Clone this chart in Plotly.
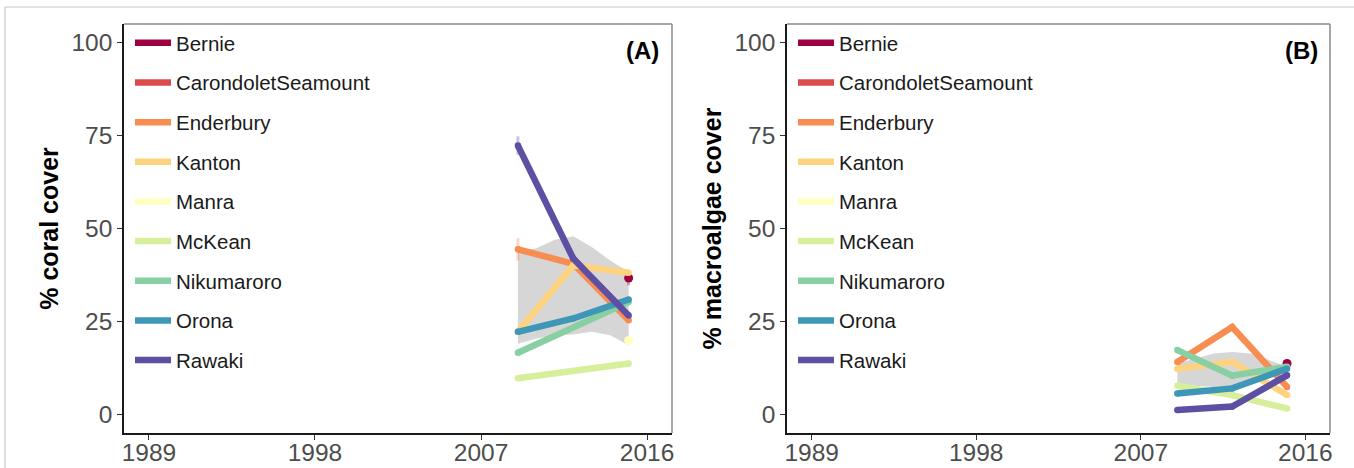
import plotly.graph_objects as go

sites = ["Bernie", "CarondoletSeamount", "Enderbury", "Kanton", "Manra",
         "McKean", "Nikumaroro", "Orona", "Rawaki"]
site_colors = ["#9E0142", "#DD4A4C", "#F88D52", "#FED380", "#FFFFBF",
               "#D7EF9B", "#88CFA4", "#3F97B7", "#5E4FA2"]
years = [2009, 2012, 2015]

# panel A: % coral cover
coral_bernie = [None, None, 36.7]
coral_carondolet = [None, None, None]
coral_enderbury = [44.4, 40.5, 25.3]
coral_kanton = [22.2, 40.1, 38.1]
coral_manra = [None, None, 19.9]
coral_mckean = [9.7, None, 13.7]
coral_nikumaroro = [16.6, None, 30.2]
coral_orona = [22.2, 25.8, 30.9]
coral_rawaki = [72.3, 41.9, 26.6]
coral_err_rawaki = [2.5, 0, 0]
coral_err_enderbury = [3.0, 0, 0]
coral_err_bernie = [0, 0, 2.0]

# panel B: % macroalgae cover
macro_bernie = [None, None, 13.7]
macro_carondolet = [None, None, None]
macro_enderbury = [14.1, 23.5, 7.4]
macro_kanton = [12.3, 14.1, 5.2]
macro_manra = [None, None, None]
macro_mckean = [7.7, 5.2, 1.6]
macro_nikumaroro = [17.3, 10.4, 12.8]
macro_orona = [5.6, 7.0, 12.3]
macro_rawaki = [1.2, 2.1, 10.5]

# smoothed confidence band (grey ribbon)
band_years = [2009, 2010, 2011, 2012, 2013, 2014, 2015]
coral_band_upper = [43.6, 44.7, 47.0, 47.9, 45.0, 41.4, 38.3]
coral_band_lower = [19.0, 20.4, 21.3, 21.5, 22.2, 21.3, 18.6]
macro_band_upper = [13.7, 15.0, 16.4, 16.8, 16.4, 14.6, 12.8]
macro_band_lower = [8.3, 7.7, 7.4, 7.7, 8.8, 9.8, 11.0]

tick_years = [1989, 1998, 2007, 2016]

coral_series = [coral_bernie, coral_carondolet, coral_enderbury, coral_kanton,
                coral_manra, coral_mckean, coral_nikumaroro, coral_orona, coral_rawaki]
macro_series = [macro_bernie, macro_carondolet, macro_enderbury, macro_kanton,
                macro_manra, macro_mckean, macro_nikumaroro, macro_orona, macro_rawaki]
coral_errs = {"Rawaki": coral_err_rawaki, "Enderbury": coral_err_enderbury,
              "Bernie": coral_err_bernie}

W, H = 1354, 468
FONT = "Liberation Sans, Arial, Helvetica, sans-serif"


def px_x(p):
    return p / W


def px_y(p):
    return 1 - p / H


fig = go.Figure()


def rgba(hexc, a):
    h = hexc.lstrip("#")
    return "rgba(%d,%d,%d,%s)" % (int(h[0:2], 16), int(h[2:4], 16), int(h[4:6], 16), a)


def add_panel(xa, ya, series, upper, lower, legend_name, errs):
    fig.add_trace(go.Scatter(x=band_years + band_years[::-1], y=upper + lower[::-1],
                             fill="toself", fillcolor="#D6D6D6", line=dict(width=0),
                             mode="lines", hoverinfo="skip", showlegend=False,
                             xaxis=xa, yaxis=ya))
    for name, col, vals in zip(sites, site_colors, series):
        xs = [yr for yr, v in zip(years, vals) if v is not None]
        ys = [v for v in vals if v is not None]
        grp = legend_name + name
        fig.add_trace(go.Scatter(x=xs if xs else [None], y=ys if ys else [None],
                                 mode="lines", name=name,
                                 line=dict(color=col, width=6.5),
                                 legend=legend_name, legendgroup=grp,
                                 xaxis=xa, yaxis=ya))
        if xs:
            e = errs.get(name)
            ev = None
            if e is not None:
                ev = [err for err, v in zip(e, vals) if v is not None]
            fig.add_trace(go.Scatter(x=xs, y=ys, mode="markers",
                                     marker=dict(color=col, size=9 if len(xs) == 1 else 6.5),
                                     error_y=dict(type="data", array=ev, visible=ev is not None,
                                                  color=rgba(col, 0.35), thickness=3, width=0),
                                     showlegend=False, legend=legend_name, legendgroup=grp,
                                     xaxis=xa, yaxis=ya))


add_panel("x", "y", coral_series, coral_band_upper, coral_band_lower, "legend", coral_errs)
add_panel("x2", "y2", macro_series, macro_band_upper, macro_band_lower, "legend2", {})

ydom = [px_y(433), px_y(24)]
axis_common = dict(showgrid=False, zeroline=False, showline=True, linecolor="#1a1a1a",
                   linewidth=1.5, ticks="outside", ticklen=5, tickcolor="#333333",
                   tickwidth=1.2, automargin=False,
                   tickfont=dict(family=FONT, size=24.5, color="#4D4D4D"))
xr = [1987.65, 2017.35]
yr = [-5, 105]
title_font = dict(family=FONT, size=25, color="black", weight="bold")
leg_common = dict(xanchor="left", yanchor="top", bgcolor="rgba(0,0,0,0)",
                  font=dict(family=FONT, size=20.5, color="#1a1a1a"),
                  tracegroupgap=10, itemwidth=36, traceorder="grouped")
fig.update_layout(
    width=W, height=H, margin=dict(l=0, r=0, t=0, b=0, autoexpand=False),
    paper_bgcolor="white", plot_bgcolor="white",
    xaxis=dict(domain=[px_x(124), px_x(672)], range=xr, tickvals=tick_years,
               anchor="y", ticklabelstandoff=-8, **axis_common),
    yaxis=dict(domain=ydom, range=yr, tickvals=[0, 25, 50, 75, 100], anchor="x",
               title=dict(text="% coral cover", standoff=6, font=title_font),
               **axis_common),
    xaxis2=dict(domain=[px_x(787), px_x(1330)], range=xr, tickvals=tick_years,
                anchor="y2", ticklabelstandoff=-8, **axis_common),
    yaxis2=dict(domain=ydom, range=yr, tickvals=[0, 25, 50, 75, 100], anchor="x2",
                title=dict(text="% macroalgae cover", standoff=6, font=title_font),
                **axis_common),
    legend=dict(x=px_x(130), y=px_y(23), **leg_common),
    legend2=dict(x=px_x(793), y=px_y(23), **leg_common),
    showlegend=True,
)

for xa, ya, lab in [("x", "y", "(A)"), ("x2", "y2", "(B)")]:
    fig.add_shape(type="line", xref=xa + " domain", yref=ya + " domain",
                  x0=0, x1=1, y0=1, y1=1, line=dict(color="#8a8a8a", width=1.5))
    fig.add_shape(type="line", xref=xa + " domain", yref=ya + " domain",
                  x0=1, x1=1, y0=0, y1=1, line=dict(color="#8a8a8a", width=1.5))
    fig.add_annotation(xref=xa + " domain", yref=ya + " domain", x=0.947, y=0.936,
                       xanchor="center", yanchor="middle",
                       text="<b>%s</b>" % lab, showarrow=False,
                       font=dict(family=FONT, size=24, color="black"))

# outer frame of the image
fig.add_shape(type="line", xref="paper", yref="paper", x0=px_x(5), x1=1, y0=px_y(7), y1=px_y(7),
              line=dict(color="#C8C8C8", width=1.2))
fig.add_shape(type="line", xref="paper", yref="paper", x0=px_x(5), x1=px_x(5), y0=0, y1=px_y(7),
              line=dict(color="#C8C8C8", width=1.2))

fig.write_html("out.html", config={"displayModeBar": False},
               post_script="document.body.style.margin='0';document.body.style.overflow='hidden';")
